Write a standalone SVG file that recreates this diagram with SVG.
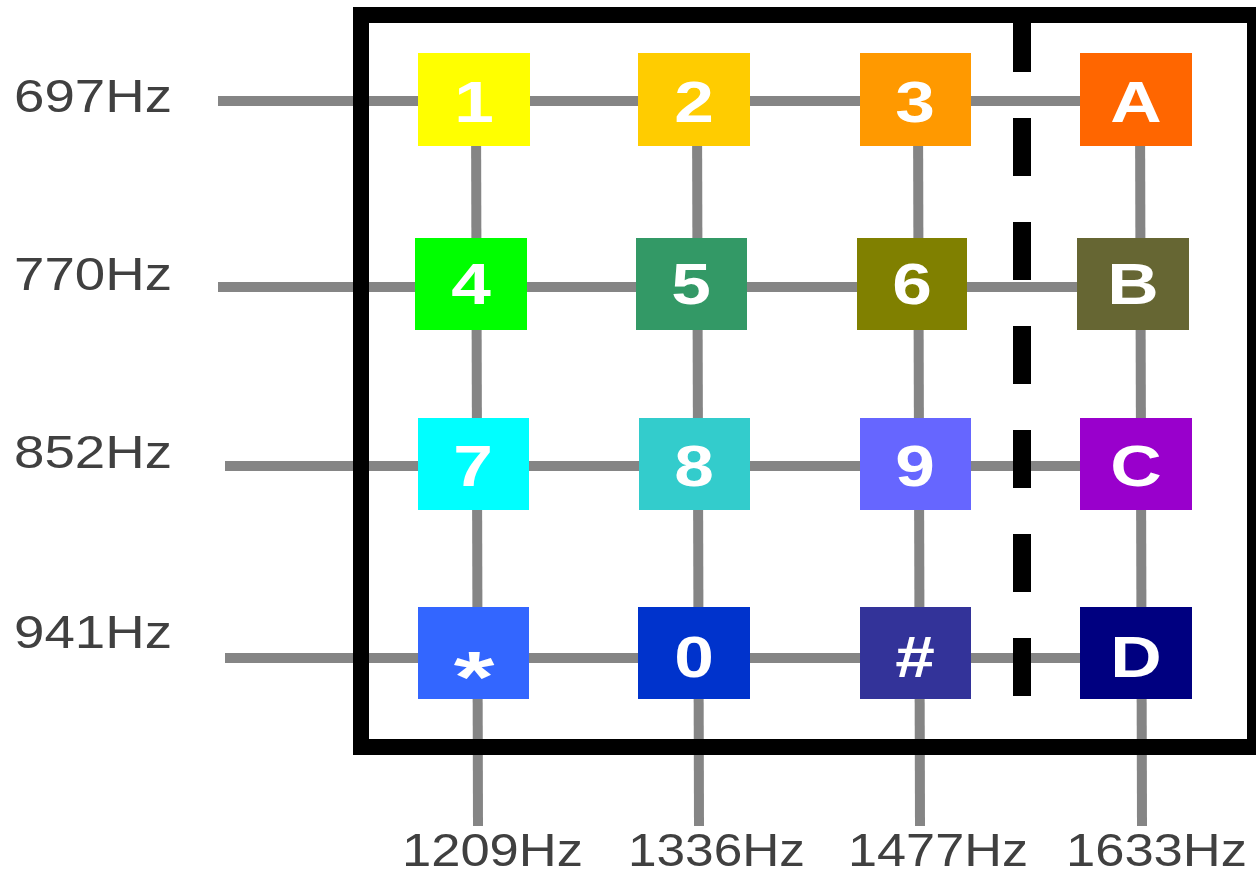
<svg xmlns="http://www.w3.org/2000/svg" width="1256" height="875" viewBox="0 0 1256 875">
<style>
.wire{stroke:#858585;stroke-width:10;fill:none}
.lbl{font-family:"Liberation Sans",Arial,sans-serif;font-size:46px;fill:#404040}
.key{font-family:"Liberation Sans",Arial,sans-serif;font-size:57px;font-weight:bold;fill:#ffffff;text-anchor:middle}
</style>
<rect width="1256" height="875" fill="#ffffff"/>
<g id="connectors">
<line class="wire" x1="218" y1="101" x2="1136" y2="101"/>
<line class="wire" x1="218" y1="287" x2="1133" y2="287"/>
<line class="wire" x1="225" y1="466" x2="1136" y2="466"/>
<line class="wire" x1="225" y1="658" x2="1136" y2="658"/>
<line class="wire" x1="476" y1="101" x2="478" y2="826"/>
<line class="wire" x1="697" y1="101" x2="699" y2="826"/>
<line class="wire" x1="918" y1="101" x2="920" y2="826"/>
<line class="wire" x1="1140" y1="101" x2="1142" y2="826"/>
</g>
<g id="frame">
<rect x="361" y="15" width="894" height="732" fill="none" stroke="#000000" stroke-width="16"/>
<line x1="1022" y1="14" x2="1022" y2="697" stroke="#000000" stroke-width="18" stroke-dasharray="58 46"/>
</g>
<g id="key-1"><rect x="418" y="53" width="112" height="93" fill="#ffff00"/><text class="key" transform="translate(474,122) scale(1.25,1)">1</text></g>
<g id="key-2"><rect x="638" y="53" width="112" height="93" fill="#ffcc00"/><text class="key" transform="translate(694,122) scale(1.25,1)">2</text></g>
<g id="key-3"><rect x="860" y="53" width="111" height="93" fill="#ff9900"/><text class="key" transform="translate(915,122) scale(1.25,1)">3</text></g>
<g id="key-A"><rect x="1080" y="53" width="112" height="93" fill="#ff6600"/><text class="key" transform="translate(1136,122) scale(1.25,1)">A</text></g>
<g id="key-4"><rect x="415" y="238" width="112" height="92" fill="#00ff00"/><text class="key" transform="translate(471,304) scale(1.25,1)">4</text></g>
<g id="key-5"><rect x="636" y="238" width="111" height="92" fill="#339966"/><text class="key" transform="translate(691,304) scale(1.25,1)">5</text></g>
<g id="key-6"><rect x="857" y="238" width="110" height="92" fill="#808000"/><text class="key" transform="translate(912,304) scale(1.25,1)">6</text></g>
<g id="key-B"><rect x="1077" y="238" width="112" height="92" fill="#666633"/><text class="key" transform="translate(1133,304) scale(1.25,1)">B</text></g>
<g id="key-7"><rect x="418" y="418" width="111" height="92" fill="#00ffff"/><text class="key" transform="translate(473,486) scale(1.25,1)">7</text></g>
<g id="key-8"><rect x="639" y="418" width="111" height="92" fill="#33cccc"/><text class="key" transform="translate(694,486) scale(1.25,1)">8</text></g>
<g id="key-9"><rect x="860" y="418" width="111" height="92" fill="#6666ff"/><text class="key" transform="translate(915,486) scale(1.25,1)">9</text></g>
<g id="key-C"><rect x="1080" y="418" width="112" height="92" fill="#9900cc"/><text class="key" transform="translate(1136,486) scale(1.25,1)">C</text></g>
<g id="key-star"><rect x="418" y="607" width="111" height="92" fill="#3366ff"/><text class="key" transform="translate(474,702) scale(1.45,1)" style="font-size:72px">*</text></g>
<g id="key-0"><rect x="638" y="607" width="112" height="92" fill="#0033cc"/><text class="key" transform="translate(694,677) scale(1.25,1)">0</text></g>
<g id="key-hash"><rect x="860" y="607" width="111" height="92" fill="#333399"/><text class="key" transform="translate(915,677) scale(1.25,1)">#</text></g>
<g id="key-D"><rect x="1080" y="607" width="112" height="92" fill="#000080"/><text class="key" transform="translate(1136,677) scale(1.25,1)">D</text></g>
<g id="labels">
<text class="lbl" x="14" y="112" textLength="158" lengthAdjust="spacingAndGlyphs">697Hz</text>
<text class="lbl" x="14" y="290" textLength="158" lengthAdjust="spacingAndGlyphs">770Hz</text>
<text class="lbl" x="14" y="468" textLength="158" lengthAdjust="spacingAndGlyphs">852Hz</text>
<text class="lbl" x="14" y="648" textLength="158" lengthAdjust="spacingAndGlyphs">941Hz</text>
<text class="lbl" x="402" y="866" textLength="181" lengthAdjust="spacingAndGlyphs">1209Hz</text>
<text class="lbl" x="628" y="866" textLength="177" lengthAdjust="spacingAndGlyphs">1336Hz</text>
<text class="lbl" x="848" y="866" textLength="180" lengthAdjust="spacingAndGlyphs">1477Hz</text>
<text class="lbl" x="1066" y="866" textLength="181" lengthAdjust="spacingAndGlyphs">1633Hz</text>
</g>
</svg>
